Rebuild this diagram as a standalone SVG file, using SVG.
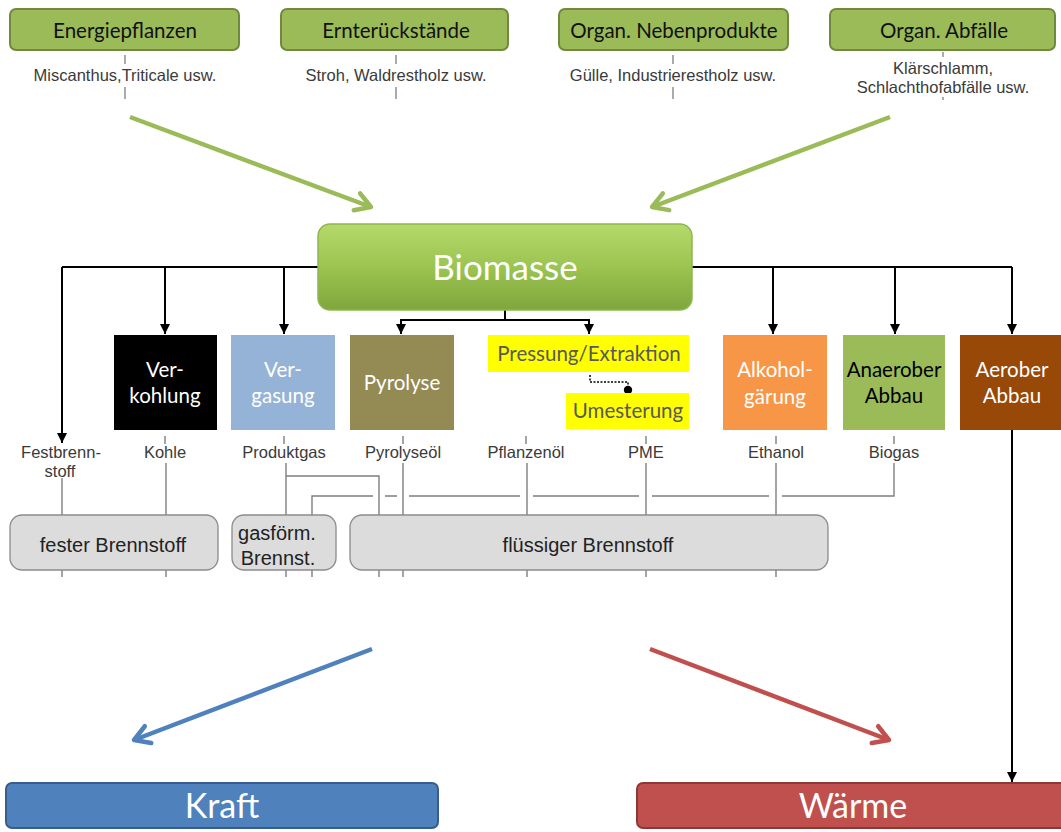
<svg xmlns="http://www.w3.org/2000/svg" width="1061" height="832" viewBox="0 0 1061 832">
<defs>
<style>
.src rect{fill:#9bbb59;stroke:#71893f;stroke-width:2}
.cal{font-family:Lato,"Open Sans",sans-serif}
.ari{font-family:"Liberation Sans",Arial,sans-serif}
.srct{font-size:20.5px;fill:#111}
.sub{font-size:16.5px;fill:#3a3a3a}
.tick{stroke:#7f7f7f;stroke-width:1.3;fill:none}
.blk{stroke:#000;stroke-width:2;fill:none}
.ptx{font-size:20.5px}
.fuel rect{fill:#dcdcdc;stroke:#8c8c8c;stroke-width:1.3}
.ftx{font-size:20px;fill:#222}
.gl{stroke:#7f7f7f;stroke-width:1.4;fill:none}
</style>
<linearGradient id="bg" x1="0" y1="0" x2="0" y2="1">
<stop offset="0" stop-color="#b5d96a"/>
<stop offset="0.5" stop-color="#9cc451"/>
<stop offset="1" stop-color="#7ea63c"/>
</linearGradient>
<marker id="ah" viewBox="0 0 10 10" refX="10" refY="5" markerWidth="10" markerHeight="10" markerUnits="userSpaceOnUse" orient="auto"><path d="M0,0 L10,5 L0,10 z" fill="#000"/></marker>
<marker id="chG" viewBox="0 0 26 26" refX="23" refY="13" markerWidth="26" markerHeight="26" markerUnits="userSpaceOnUse" orient="auto"><path d="M8,4 L23,13 L8,22" fill="none" stroke="#9bbb59" stroke-width="4.5" stroke-linecap="round" stroke-linejoin="round"/></marker>
<marker id="chB" viewBox="0 0 26 26" refX="23" refY="13" markerWidth="26" markerHeight="26" markerUnits="userSpaceOnUse" orient="auto"><path d="M8,4 L23,13 L8,22" fill="none" stroke="#4f81bd" stroke-width="4.5" stroke-linecap="round" stroke-linejoin="round"/></marker>
<marker id="chR" viewBox="0 0 26 26" refX="23" refY="13" markerWidth="26" markerHeight="26" markerUnits="userSpaceOnUse" orient="auto"><path d="M8,4 L23,13 L8,22" fill="none" stroke="#c0504d" stroke-width="4.5" stroke-linecap="round" stroke-linejoin="round"/></marker>
</defs>
<rect width="1061" height="832" fill="#fff"/>

<g id="connectors">
<path class="tick" d="M125,55 V64 M125,87 V99 M396,55 V64 M396,87 V99 M673,55 V64 M673,87 V99 M943,52 V57 M943,97 V100"/>
<line x1="130" y1="117" x2="371" y2="207" stroke="#9bbb59" stroke-width="4.5" marker-end="url(#chG)"/>
<line x1="890" y1="117" x2="652" y2="207" stroke="#9bbb59" stroke-width="4.5" marker-end="url(#chG)"/>
<path class="blk" d="M318,267 H62 M692,267 H1012"/>
<line class="blk" x1="62" y1="267" x2="62" y2="443" marker-end="url(#ah)"/>
<line class="blk" x1="165" y1="267" x2="165" y2="334" marker-end="url(#ah)"/>
<line class="blk" x1="284" y1="267" x2="284" y2="334" marker-end="url(#ah)"/>
<path class="blk" d="M505,310 V320 M401,320 H589"/>
<line class="blk" x1="401" y1="319" x2="401" y2="334" marker-end="url(#ah)"/>
<line class="blk" x1="589" y1="319" x2="589" y2="334" marker-end="url(#ah)"/>
<line class="blk" x1="773" y1="267" x2="773" y2="334" marker-end="url(#ah)"/>
<line class="blk" x1="895" y1="267" x2="895" y2="334" marker-end="url(#ah)"/>
<line class="blk" x1="1012" y1="267" x2="1012" y2="334" marker-end="url(#ah)"/>
<line class="blk" x1="1012" y1="430" x2="1012" y2="782" marker-end="url(#ah)"/>
<path d="M590,375 V382 H628 V388" fill="none" stroke="#000" stroke-width="1.5" stroke-dasharray="2,1.5"/>
<circle cx="628" cy="390" r="4.2" fill="#000"/>
<path class="gl" d="M165,436 V444 M284,436 V444 M403,436 V444 M526,436 V444 M646,436 V444 M776,436 V444 M894,436 V444"/>
<path class="gl" d="M62,478 V577 M166,463 V577 M286,463 V577 M286,476 H379 V577 M403,463 V577 M527,463 V577 M646,463 V577 M776,463 V577"/>
<path class="gl" d="M894,463 V496 H782 M769,496 H652 M639,496 H533 M520,496 H409 M397,496 H385 M373,496 H312 V577"/>
<line x1="372" y1="649" x2="134" y2="740" stroke="#4f81bd" stroke-width="4.5" marker-end="url(#chB)"/>
<line x1="650" y1="649" x2="889" y2="740" stroke="#c0504d" stroke-width="4.5" marker-end="url(#chR)"/>
</g>

<g id="energiepflanzen" class="src"><rect x="10" y="9" width="229" height="41" rx="6"/><text class="cal srct" x="125" y="37.5" text-anchor="middle">Energiepflanzen</text>
<text class="ari sub" x="125" y="81" text-anchor="middle">Miscanthus,Triticale usw.</text></g>
<g id="ernterueckstaende" class="src"><rect x="281" y="9" width="227" height="41" rx="6"/><text class="cal srct" x="396" y="37.5" text-anchor="middle">Ernterückstände</text>
<text class="ari sub" x="396" y="81" text-anchor="middle">Stroh, Waldrestholz usw.</text></g>
<g id="nebenprodukte" class="src"><rect x="559" y="9" width="229" height="41" rx="6"/><text class="cal srct" x="674" y="37.5" text-anchor="middle">Organ. Nebenprodukte</text>
<text class="ari sub" x="673" y="81" text-anchor="middle">Gülle, Industrierestholz usw.</text></g>
<g id="abfaelle" class="src"><rect x="830" y="9" width="225" height="41" rx="6"/><text class="cal srct" x="944" y="37.5" text-anchor="middle">Organ. Abfälle</text>
<text class="ari sub" x="943" y="74" text-anchor="middle">Klärschlamm,</text>
<text class="ari sub" x="943" y="93" text-anchor="middle">Schlachthofabfälle usw.</text></g>

<g id="biomasse"><rect x="318" y="224" width="374" height="86" rx="12" fill="url(#bg)" stroke="#8fb64e" stroke-width="1.5"/>
<text class="cal" x="505" y="280" font-size="35" fill="#fff" text-anchor="middle">Biomasse</text></g>

<g id="verkohlung"><rect x="114" y="335" width="103" height="95" fill="#000"/>
<text class="cal ptx" fill="#fff" text-anchor="middle"><tspan x="165" y="377">Ver-</tspan><tspan x="165" y="403">kohlung</tspan></text></g>
<g id="vergasung"><rect x="231" y="335" width="104" height="95" fill="#95b3d7"/>
<text class="cal ptx" fill="#fff" text-anchor="middle"><tspan x="283" y="377">Ver-</tspan><tspan x="283" y="403">gasung</tspan></text></g>
<g id="pyrolyse"><rect x="350" y="335" width="104" height="95" fill="#948a54"/>
<text class="cal ptx" fill="#fff" x="402" y="390" text-anchor="middle">Pyrolyse</text></g>
<g id="pressung"><rect x="488" y="335" width="201" height="37" fill="#ffff00"/>
<text class="cal ptx" fill="#595959" x="589" y="361" text-anchor="middle">Pressung/Extraktion</text></g>
<g id="umesterung"><rect x="566" y="393" width="123" height="36" fill="#ffff00"/>
<text class="cal ptx" fill="#595959" x="628" y="418" text-anchor="middle">Umesterung</text></g>
<g id="alkohol"><rect x="723" y="335" width="104" height="95" fill="#f79646"/>
<text class="cal ptx" fill="#fff" text-anchor="middle"><tspan x="775" y="377">Alkohol-</tspan><tspan x="775" y="404">gärung</tspan></text></g>
<g id="anaerob"><rect x="843" y="335" width="102" height="95" fill="#9bbb59"/>
<text class="cal ptx" fill="#000" text-anchor="middle"><tspan x="894" y="377">Anaerober</tspan><tspan x="894" y="403">Abbau</tspan></text></g>
<g id="aerob"><rect x="960" y="335" width="101" height="95" fill="#984807"/>
<text class="cal ptx" fill="#fff" text-anchor="middle"><tspan x="1012" y="377">Aerober</tspan><tspan x="1012" y="403">Abbau</tspan></text></g>

<g id="produkte" class="ari sub" text-anchor="middle">
<text x="61" y="458">Festbrenn-</text><text x="60" y="477">stoff</text>
<text x="165" y="458">Kohle</text>
<text x="284" y="458">Produktgas</text>
<text x="403" y="458">Pyrolyseöl</text>
<text x="526" y="458">Pflanzenöl</text>
<text x="646" y="458">PME</text>
<text x="776" y="458">Ethanol</text>
<text x="894" y="458">Biogas</text>
</g>

<g id="fester" class="fuel"><rect x="10" y="515" width="208" height="55" rx="12"/><text class="ari ftx" x="113" y="552" text-anchor="middle">fester Brennstoff</text></g>
<g id="gasfoermig" class="fuel"><rect x="232" y="515" width="104" height="55" rx="12"/><text class="ari ftx" text-anchor="middle"><tspan x="277" y="540">gasförm.</tspan><tspan x="278" y="565">Brennst.</tspan></text></g>
<g id="fluessig" class="fuel"><rect x="350" y="515" width="478" height="55" rx="12"/><text class="ari ftx" x="588" y="552" text-anchor="middle">flüssiger Brennstoff</text></g>

<g id="kraft"><rect x="6" y="783" width="432" height="45" rx="6" fill="#4f81bd" stroke="#385d8a" stroke-width="2"/>
<text class="cal" x="222" y="818" font-size="34" fill="#fff" text-anchor="middle">Kraft</text></g>
<g id="waerme"><rect x="637" y="783" width="440" height="45" rx="6" fill="#c0504d" stroke="#8c3836" stroke-width="2"/>
<text class="cal" x="853" y="818" font-size="34" fill="#fff" text-anchor="middle">Wärme</text></g>
</svg>
